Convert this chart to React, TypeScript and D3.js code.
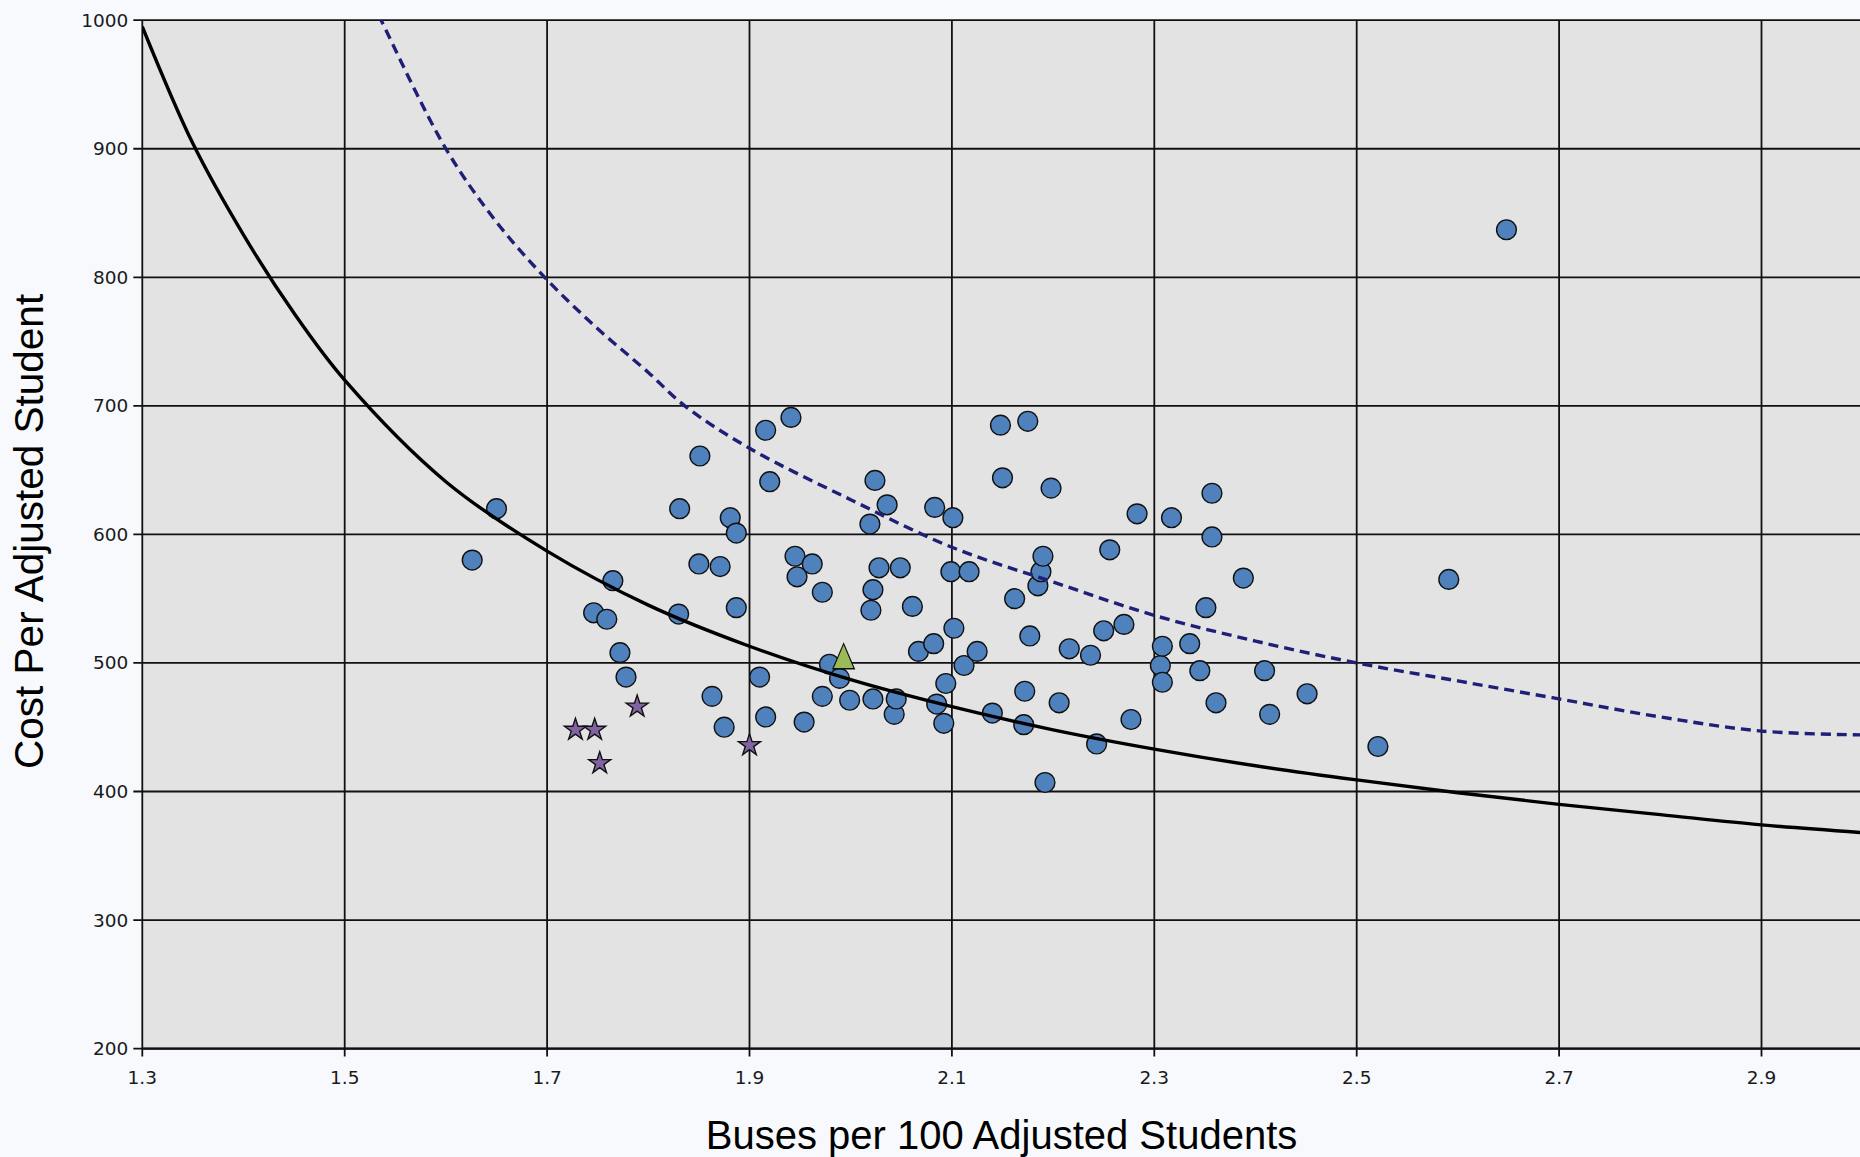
import React from "react";
import * as d3 from "d3";

// ---------- data ----------
const X_TICKS = [1.3, 1.5, 1.7, 1.9, 2.1, 2.3, 2.5, 2.7, 2.9];
const X_TICK_LABELS = ["1.3", "1.5", "1.7", "1.9", "2.1", "2.3", "2.5", "2.7", "2.9"];
const Y_TICKS = [200, 300, 400, 500, 600, 700, 800, 900, 1000];
const Y_TICK_LABELS = ["200", "300", "400", "500", "600", "700", "800", "900", "1000"];

const X_TITLE = "Buses per 100 Adjusted Students";
const Y_TITLE = "Cost Per Adjusted Student";

// district circles
const CIRCLE_X = [
  1.626, 1.65, 1.746, 1.759, 1.765, 1.772, 1.778, 1.83, 1.831, 1.851,
  1.85, 1.863, 1.871, 1.875, 1.881, 1.887, 1.887, 1.91, 1.916, 1.916,
  1.92, 1.941, 1.945, 1.947, 1.954, 1.962, 1.972, 1.972, 1.979, 1.989,
  1.999, 2.019, 2.02, 2.022, 2.022, 2.024, 2.028, 2.036, 2.043, 2.045,
  2.049, 2.061, 2.067, 2.082, 2.083, 2.085, 2.092, 2.094, 2.099, 2.101,
  2.102, 2.112, 2.117, 2.125, 2.14, 2.148, 2.15, 2.162, 2.171, 2.172,
  2.175, 2.177, 2.185, 2.188, 2.19, 2.192, 2.198, 2.206, 2.216, 2.237,
  2.243, 2.25, 2.256, 2.27, 2.277, 2.283, 2.306, 2.308, 2.308, 2.317,
  2.335, 2.345, 2.351, 2.357, 2.357, 2.361, 2.388, 2.409, 2.414, 2.451,
  2.521, 2.591, 2.648,
];
const CIRCLE_Y = [
  580, 620, 539, 534, 564, 508, 489, 538, 620, 661,
  577, 474, 575, 450, 613, 601, 543, 489, 458, 681,
  641, 691, 583, 567, 454, 577, 555, 474, 499, 488,
  471, 608, 541, 557, 472, 642, 574, 623, 460, 472,
  574, 544, 509, 515, 621, 468, 453, 484, 571, 613,
  527, 498, 571, 509, 461, 685, 644, 550, 452, 478,
  688, 521, 560, 571, 583, 407, 636, 469, 511, 506,
  437, 525, 588, 530, 456, 616, 498, 485, 513, 613,
  515, 494, 543, 632, 598, 469, 566, 494, 460, 476,
  435, 565, 837,
];

// peer stars
const STAR_X = [1.728, 1.747, 1.752, 1.789, 1.9];
const STAR_Y = [448, 448, 422, 466, 436];

// highlighted district (triangle)
const TRI_X = [1.993];
const TRI_Y = [502];

// solid trend curve
const SOLID_X = [1.3, 1.35, 1.4, 1.45, 1.5, 1.6, 1.7, 1.8, 1.9, 2.0, 2.1, 2.2, 2.3, 2.4, 2.5, 2.6, 2.7, 2.8, 2.9, 3.0];
const SOLID_Y = [995, 904, 833, 772, 720, 641, 587, 545, 513, 487, 466, 448, 433, 420, 409, 399, 390, 382, 374, 368];

// dashed curve
const DASH_X = [1.52, 1.536, 1.6, 1.65, 1.7, 1.75, 1.8, 1.836, 1.9, 2.0, 2.1, 2.2, 2.3, 2.4, 2.5, 2.6, 2.7, 2.8, 2.9, 3.0];
const DASH_Y = [1026, 1000, 900, 843, 798, 760, 726, 700, 667, 627, 590, 563, 537, 517, 500, 486, 472, 458, 447, 444];

// ---------- layout ----------
const W = 1860;
const H = 1157;
const L = 142.3;
const R = 1862.7;
const T = 20.2;
const B = 1048.6;

export default function App() {
  const x = d3.scaleLinear().domain([1.3, 3.0]).range([L, R]);
  const y = d3.scaleLinear().domain([200, 1000]).range([B, T]);

  const line = d3
    .line<[number, number]>()
    .x((d) => x(d[0]))
    .y((d) => y(d[1]))
    .curve(d3.curveCatmullRom.alpha(0.5));

  const solidPts: [number, number][] = SOLID_X.map((v, i) => [v, SOLID_Y[i]]);
  const dashPts: [number, number][] = DASH_X.map((v, i) => [v, DASH_Y[i]]);

  const starPath = d3.symbol().type(d3.symbolStar).size(150)() as string;
  const triPath = d3.symbol().type(d3.symbolTriangle).size(200)() as string;

  const tickFont = "'DejaVu Sans', Verdana, sans-serif";
  const titleFont = "'Liberation Sans', Arial, sans-serif";

  return (
    <svg
      width={W}
      height={H}
      style={{ position: "absolute", left: 0, top: 0, display: "block" }}
    >
      <defs>
        <clipPath id="plotclip">
          <rect x={L} y={T} width={R - L} height={B - T} />
        </clipPath>
      </defs>
      <rect x={0} y={0} width={W} height={H} fill="#F7F9FD" />
      <rect x={L} y={T} width={R - L} height={B - T} fill="#E3E3E3" />

      {/* grid */}
      {Y_TICKS.map((t) => (
        <line key={"gy" + t} x1={L - 9} x2={R} y1={y(t)} y2={y(t)} stroke="#111" strokeWidth={1.8} />
      ))}
      {X_TICKS.map((t) => (
        <line key={"gx" + t} x1={x(t)} x2={x(t)} y1={T} y2={B + 8} stroke="#111" strokeWidth={1.8} />
      ))}
      <line x1={L} x2={R} y1={B} y2={B} stroke="#111" strokeWidth={2.4} />

      {/* tick labels */}
      {Y_TICKS.map((t, i) => (
        <text
          key={"ly" + t}
          x={L - 14}
          y={y(t)}
          textAnchor="end"
          dominantBaseline="central"
          fontFamily={tickFont}
          fontSize={18.5}
          fill="#1a1a1a"
        >
          {Y_TICK_LABELS[i]}
        </text>
      ))}
      {X_TICKS.map((t, i) => (
        <text
          key={"lx" + t}
          x={x(t)}
          y={1083.5}
          textAnchor="middle"
          fontFamily={tickFont}
          fontSize={18.5}
          fill="#1a1a1a"
        >
          {X_TICK_LABELS[i]}
        </text>
      ))}

      {/* marks */}
      <g clipPath="url(#plotclip)">
        {CIRCLE_X.map((v, i) => (
          <circle
            key={"c" + i}
            cx={x(v)}
            cy={y(CIRCLE_Y[i])}
            r={9.9}
            fill="#4F81BD"
            stroke="#111"
            strokeWidth={1.4}
          />
        ))}
        <path d={line(solidPts) || ""} fill="none" stroke="#000" strokeWidth={3.4} />
        <path
          d={line(dashPts) || ""}
          fill="none"
          stroke="#1F1F78"
          strokeWidth={3.4}
          strokeDasharray="10 6"
        />
        {STAR_X.map((v, i) => (
          <path
            key={"s" + i}
            d={starPath}
            transform={`translate(${x(v)},${y(STAR_Y[i])})`}
            fill="#8064A2"
            stroke="#111"
            strokeWidth={1.4}
          />
        ))}
        {TRI_X.map((v, i) => (
          <path
            key={"t" + i}
            d={triPath}
            transform={`translate(${x(v)},${y(TRI_Y[i])}) scale(1,1.35)`}
            fill="#9BBB59"
            stroke="#111"
            strokeWidth={1.1}
          />
        ))}
      </g>

      {/* titles */}
      <text
        x={(L + R) / 2 - 1}
        y={1149}
        textAnchor="middle"
        fontFamily={titleFont}
        fontSize={40}
        fill="#000"
      >
        {X_TITLE}
      </text>
      <text
        transform={`translate(43,${(T + B) / 2 - 3}) rotate(-90)`}
        textAnchor="middle"
        fontFamily={titleFont}
        fontSize={40.5}
        fill="#000"
      >
        {Y_TITLE}
      </text>
    </svg>
  );
}
